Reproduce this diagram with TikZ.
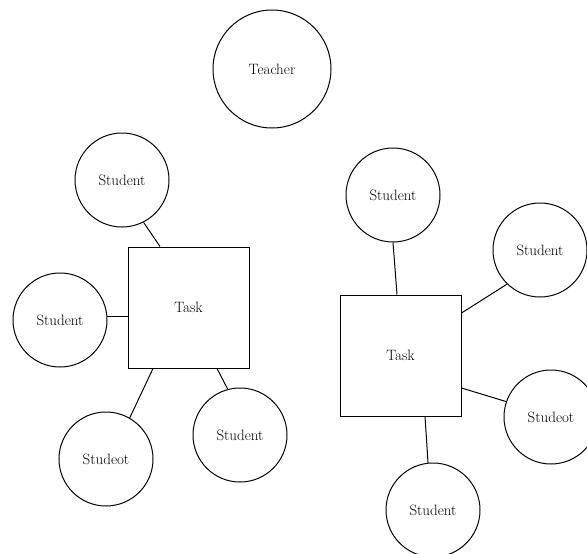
\documentclass[tikz,border=0pt]{standalone}
\usepackage{tikz}

\begin{document}
\begin{tikzpicture}[x=1pt, y=-1pt, line width=1pt,
  every node/.style={draw, inner sep=0pt, align=center, font=\fontsize{15}{17}\selectfont},
  student/.style={circle, minimum size=94pt},
  teacher/.style={circle, minimum size=118pt},
  task/.style={rectangle, minimum size=121pt}
  ]
  \useasboundingbox (0,0) rectangle (587,554);

  \node[teacher] (teacher) at (272,69) {Teacher};

  % left group
  \node[task] (t1) at (188.5,307.5) {Task};
  \node[student] (su1) at (122,180) {Student};
  \node[student] (su2) at (60,320) {Student};
  \node[student] (su3) at (106,459) {Studeot};
  \node[student] (su4) at (240,435) {Student};

  % right group
  \node[task] (t2) at (400.5,355.5) {Task};
  \node[student] (sv1) at (393,195) {Student};
  \node[student] (sv2) at (540,250) {Student};
  \node[student] (sv3) at (551,417) {Studeot};
  \node[student] (sv4) at (433,510) {Student};

  \draw (su1.-63) -- ([xshift=-28.5pt]t1.north);
  \draw (su2.4) -- (su2.4 -| t1.west);
  \draw (su3.60) -- ([xshift=-35.5pt]t1.south);
  \draw (su4.105) -- ([xshift=28.5pt]t1.south);

  \draw (sv1.south) -- ([xshift=-3.5pt]t2.north);
  \draw (sv2.226) -- ([yshift=42.5pt]t2.east);
  \draw (sv3.161) -- ([yshift=-32.5pt]t2.east);
  \draw (sv4.96) -- ([xshift=24.5pt]t2.south);
\end{tikzpicture}
\end{document}
